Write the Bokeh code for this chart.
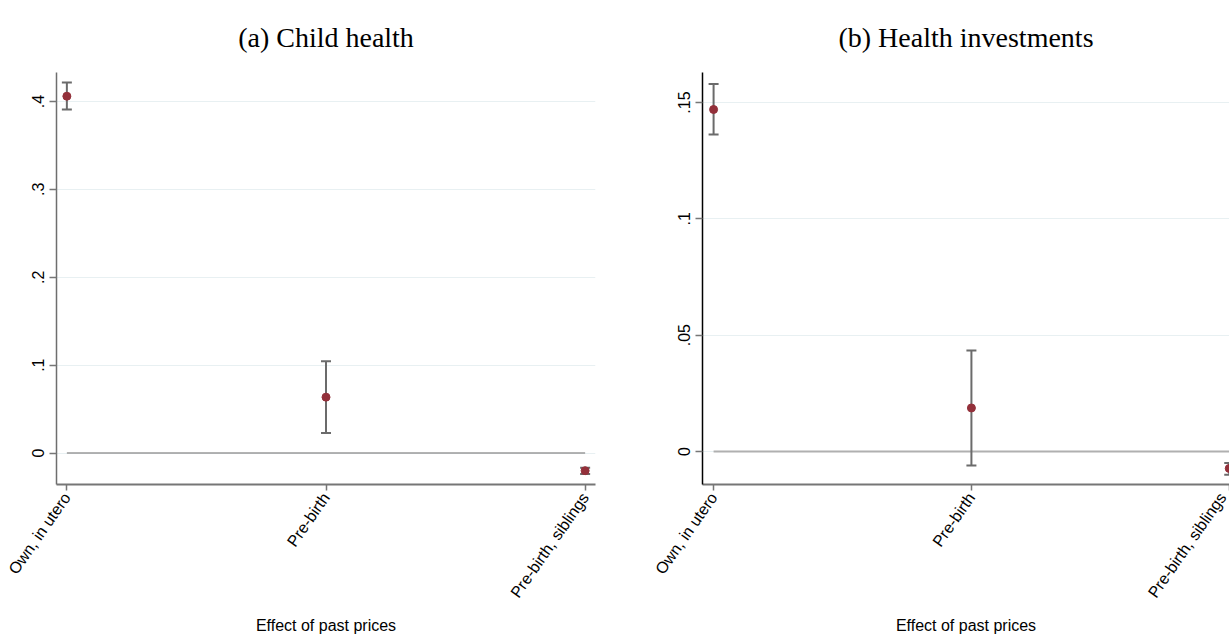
from bokeh.plotting import figure
from bokeh.layouts import row
from bokeh.models import FixedTicker, Range1d
from bokeh.embed import file_html
from bokeh.resources import INLINE

categories = ["Own, in utero", "Pre-birth", "Pre-birth, siblings"]

health_coef = [0.406, 0.0636, -0.0201]
health_lo = [0.391, 0.0227, -0.0238]
health_hi = [0.4216, 0.1045, -0.0168]

invest_coef = [0.147, 0.0187, -0.0073]
invest_lo = [0.1362, -0.0060, -0.0100]
invest_hi = [0.1580, 0.0434, -0.0050]

health_ticks = [0, 0.1, 0.2, 0.3, 0.4]
health_tick_labels = ["0", ".1", ".2", ".3", ".4"]
invest_ticks = [0, 0.05, 0.1, 0.15]
invest_tick_labels = ["0", ".05", ".1", ".15"]

titles = ["(a) Child health", "(b) Health investments"]
xlabel = "Effect of past prices"

POINT = "#93303a"
BAR = "#6b6b6b"
GRID = "#e8f0f2"


def make_panel(title, coef, lo, hi, ticks, tick_labels, x_range, y_range,
               width, left, right, yaxis_color, zero_color, zero_width):
    xs = list(range(1, len(categories) + 1))
    p = figure(width=width, height=636, output_backend="svg", toolbar_location=None,
               x_range=Range1d(*x_range), y_range=Range1d(*y_range),
               min_border_left=left, min_border_right=right,
               min_border_top=72, min_border_bottom=152)
    p.outline_line_color = None
    p.background_fill_color = "white"
    p.border_fill_color = "white"

    p.title.text = title
    p.title.text_font = "Liberation Serif"
    p.title.text_font_size = "28px"
    p.title.text_font_style = "normal"
    p.title.align = "center"
    p.title.vertical_align = "top"
    p.title.text_color = "black"
    p.title.standoff = 35

    # grid
    p.xgrid.visible = False
    p.ygrid.ticker = FixedTicker(ticks=ticks)
    p.ygrid.grid_line_color = GRID
    p.ygrid.grid_line_width = 1

    # zero line between first and last category
    p.line(x=[xs[0], xs[-1]], y=[0, 0], line_color=zero_color, line_width=zero_width)

    # error bars
    p.segment(x0=xs, y0=lo, x1=xs, y1=hi, line_color=BAR, line_width=2)
    p.scatter(x=xs, y=lo, marker="dash", size=10, line_color=BAR, line_width=2)
    p.scatter(x=xs, y=hi, marker="dash", size=10, line_color=BAR, line_width=2)
    p.scatter(x=xs, y=coef, marker="circle", size=8, fill_color=POINT, line_color=POINT)

    # x axis
    xa = p.xaxis[0]
    xa.ticker = FixedTicker(ticks=xs)
    xa.major_label_overrides = {x: c for x, c in zip(xs, categories)}
    xa.major_label_orientation = 0.96
    xa.major_label_text_font = "Liberation Sans"
    xa.major_label_text_font_size = "16px"
    xa.major_label_text_color = "black"
    xa.major_label_standoff = 4
    xa.axis_line_color = "#767676"
    xa.axis_line_width = 2
    xa.major_tick_line_color = "#767676"
    xa.major_tick_line_width = 1.5
    xa.major_tick_out = 6
    xa.major_tick_in = 0
    xa.minor_tick_line_color = None
    xa.axis_label = xlabel
    xa.axis_label_text_font = "Liberation Sans"
    xa.axis_label_text_font_size = "16px"
    xa.axis_label_text_font_style = "normal"
    xa.axis_label_text_color = "black"
    xa.axis_label_standoff = 8

    # y axis
    ya = p.yaxis[0]
    ya.ticker = FixedTicker(ticks=ticks)
    ya.major_label_overrides = {t: l for t, l in zip(ticks, tick_labels)}
    ya.major_label_orientation = "vertical"
    ya.major_label_text_font = "Liberation Sans"
    ya.major_label_text_font_size = "16px"
    ya.major_label_text_color = "black"
    ya.major_label_standoff = 5
    ya.axis_line_color = yaxis_color
    ya.axis_line_width = 1.5
    ya.major_tick_line_color = "#767676"
    ya.major_tick_line_width = 1.5
    ya.major_tick_out = 7
    ya.major_tick_in = 0
    ya.minor_tick_line_color = None
    return p


p1 = make_panel(titles[0], health_coef, health_lo, health_hi, health_ticks, health_tick_labels,
                (0.96, 3.04), (-0.0358, 0.433), 640, 56, 45, "#6e6e6e", "#9a9a9a", 1.5)
p2 = make_panel(titles[1], invest_coef, invest_lo, invest_hi, invest_ticks, invest_tick_labels,
                (0.957, 3.001), (-0.0142, 0.1629), 589, 62, 0, "black", "#b0b0b0", 2)

layout = row(p1, p2)
open("out.html", "w").write(file_html(layout, INLINE))
